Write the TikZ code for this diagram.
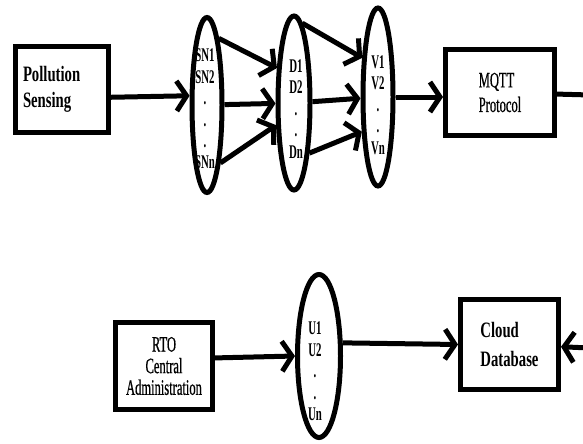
\documentclass[tikz,border=0pt]{standalone}
\usepackage{fontspec}
\setmainfont{Liberation Serif}
\newfontfamily\narrowbf[FakeStretch=0.67]{Liberation Serif}
\newfontfamily\narrowrm[FakeStretch=0.57, FakeBold=0.6]{Liberation Serif}
\newfontfamily\narrowlbl[FakeStretch=0.56]{Liberation Serif}
\usetikzlibrary{positioning, arrows.meta, shapes.geometric}

\begin{document}
\begin{tikzpicture}[
    boldblock/.style={rectangle, draw=black, line width=0.1cm, align=left, font=\narrowbf\bfseries\fontsize{12.5}{15}\selectfont},
    plainblock/.style={rectangle, draw=black, line width=0.1cm, font=\narrowrm\fontsize{12.5}{14}\selectfont},
    cluster/.style={ellipse, draw=black, line width=0.1cm, inner sep=0pt},
    members/.style={align=center, inner sep=0pt, font=\narrowlbl\bfseries\fontsize{11}{12.2}\selectfont},
    arrow/.style={-{Straight Barb[length=0.2cm, width=0.6cm]}, line width=0.1cm},
    plainline/.style={line width=0.1cm}
]
\useasboundingbox (0,0) rectangle (11.66,-8.86);

% Bloque de sensado
\node[boldblock, minimum width=1.86cm, minimum height=1.72cm, text width=1.56cm, inner xsep=0.15cm] (sensing) at (1.24,-1.79) {Pollution \\ Sensing};

% Grupos superiores
\node[cluster, minimum width=0.6cm, minimum height=3.5cm] (sngroup) at (4.14,-2.10) {};
\node[cluster, minimum width=0.64cm, minimum height=3.48cm] (dgroup) at (5.88,-2.06) {};
\node[cluster, minimum width=0.6cm, minimum height=3.56cm] (vgroup) at (7.56,-1.94) {};

\node[members] (snlist) at (4.10,-2.18) {SN1 \\ SN2 \\ . \\ . \\ . \\ SNn};
\node[members] (dlist) at (5.92,-2.18) {D1 \\ D2 \\ . \\ . \\ Dn};
\node[members] (vlist) at (7.56,-2.10) {V1 \\ V2 \\ . \\ . \\ Vn};

% Bloque MQTT
\node[plainblock, align=left, minimum width=2.18cm, minimum height=1.72cm] (mqtt) at (10.0,-1.85) {MQTT \\ Protocol};
\coordinate (mqttout) at (11.8,-1.90);

% Conexiones superiores
\draw[arrow] (sensing.-9) -- (sngroup.152);
\draw[arrow] (sngroup.80) -- (dgroup.116);
\draw[arrow] (sngroup) -- (dgroup);
\draw[arrow] (sngroup.-77) -- (dgroup.231);
\draw[arrow] (dgroup.84) -- (vgroup.112);
\draw[arrow] (dgroup) -- (vgroup);
\draw[arrow] (dgroup.-73) -- (vgroup.245);
\draw[arrow] (vgroup) -- (vgroup -| mqtt.west);
\draw[plainline] (mqtt) -- (mqttout);

% Fila inferior
\node[plainblock, align=center, minimum width=1.94cm, minimum height=1.74cm, font=\narrowrm\fontsize{12.5}{12.3}\selectfont] (rto) at (3.28,-7.32) {RTO \\ Central \\ Administration};
\node[cluster, minimum width=0.86cm, minimum height=3.26cm] (ugroup) at (6.38,-7.12) {};
\node[members] (ulist) at (6.30,-7.43) {U1 \\ U2 \\ . \\ . \\ Un};
\node[boldblock, minimum width=1.96cm, minimum height=1.8cm, font=\narrowbf\bfseries\fontsize{12.5}{16}\selectfont] (cloud) at (10.19,-6.89) {Cloud \\ Database};
\coordinate (cloudin) at (11.8,-6.96);

% Conexiones inferiores
\draw[arrow] (rto.9) -- (ugroup.west);
\draw[arrow] (ugroup.29) -- (cloud.west);
\draw[arrow] (cloudin) -- (cloud);

\end{tikzpicture}
\end{document}
